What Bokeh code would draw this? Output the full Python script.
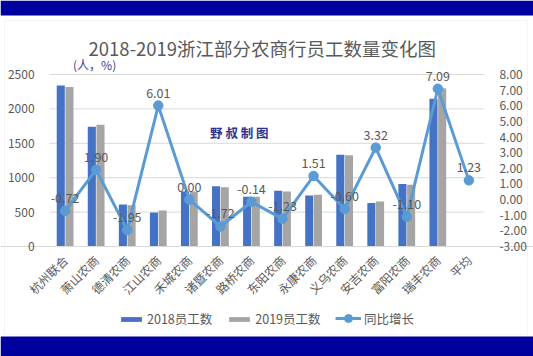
from math import pi
from bokeh.plotting import figure
from bokeh.core.properties import value
from bokeh.models import (FactorRange, Range1d, LinearAxis, SingleIntervalTicker,
                          NumeralTickFormatter, Legend, LegendItem, Label, LabelSet,
                          BoxAnnotation, ColumnDataSource)
from bokeh.transform import dodge
from bokeh.embed import file_html
from bokeh.resources import INLINE

categories = ["杭州联合", "萧山农商", "德清农商", "江山农商", "禾城农商", "诸暨农商", "路桥农商",
              "东阳农商", "永康农商", "义乌农商", "安吉农商", "富阳农商", "瑞丰农商", "平均"]
bar_categories = categories[:13]
staff_2018 = [2340, 1740, 610, 495, 800, 875, 725, 810, 740, 1335, 632, 908, 2148]
staff_2019 = [2320, 1770, 598, 525, 800, 860, 724, 800, 751, 1327, 653, 898, 2300]
growth = [-0.72, 1.90, -1.95, 6.01, 0.00, -1.72, -0.14, -1.23, 1.51, -0.60, 3.32, -1.10, 7.09, 1.23]
left_ticks = [0, 500, 1000, 1500, 2000, 2500]
right_ticks_interval = 1

FONT = "Noto Sans CJK SC"
TXT = "#595959"
NAVY = "#00009E"
GRID = "#D9D9D9"

bars = ColumnDataSource(dict(cat=bar_categories, y18=staff_2018, y19=staff_2019))
line_src = ColumnDataSource(dict(cat=categories, g=growth, lab=["%.2f" % v for v in growth]))
grid_src = ColumnDataSource(dict(y=left_ticks))

# frame covers the whole canvas; axes are placed at fixed data locations
xr = FactorRange(*categories, range_padding=1.58, range_padding_units="absolute")
p = figure(width=533, height=356, x_range=xr, y_range=Range1d(-1599, 3576),
           toolbar_location=None, output_backend="svg", min_border=0)
p.extra_y_ranges = {"pct": Range1d(-10.035, 12.733)}
p.outline_line_color = None
p.background_fill_color = "white"
p.border_fill_color = "white"
p.xgrid.grid_line_color = None
p.ygrid.grid_line_color = None

# bands and outer frame
p.add_layout(BoxAnnotation(bottom=3358, fill_color=NAVY, fill_alpha=1, line_color=None, level="underlay"))
p.add_layout(BoxAnnotation(top=-1308, fill_color=NAVY, fill_alpha=1, line_color=None, level="underlay"))
p.add_layout(BoxAnnotation(left=-1.45, right=15.39, top=3285, bottom=-1279, fill_alpha=0,
                           line_color=GRID, line_width=1, level="underlay"))

# horizontal grid lines over the category span
p.segment(x0=0, x1=len(categories), y0="y", y1="y", source=grid_src, line_color=GRID, line_width=1,
          level="underlay")

r18 = p.vbar(x=dodge("cat", -0.14, range=p.x_range), top="y18", width=0.26, source=bars,
             fill_color="#4472C4", line_color=None)
r19 = p.vbar(x=dodge("cat", 0.14, range=p.x_range), top="y19", width=0.26, source=bars,
             fill_color="#A5A5A5", line_color=None)
rl = p.line(x="cat", y="g", source=line_src, y_range_name="pct", line_color="#5B9BD5", line_width=3)
rs = p.scatter(x="cat", y="g", source=line_src, y_range_name="pct", size=9.5,
               fill_color="#5B9BD5", line_color="#5B9BD5")

labels = LabelSet(x="cat", y="g", text="lab", source=line_src, y_range_name="pct",
                  text_align="center", text_baseline="bottom", y_offset=8,
                  text_font=value(FONT), text_font_size=value("12.5px"), text_color=TXT)
p.add_layout(labels)

# axes
yl = p.yaxis[0]
yl.fixed_location = 0
yl.bounds = (0, 2500)
yl.ticker = SingleIntervalTicker(interval=500)
ax_right = LinearAxis(y_range_name="pct", ticker=SingleIntervalTicker(interval=right_ticks_interval),
                      formatter=NumeralTickFormatter(format="0.00"), fixed_location=len(categories),
                      bounds=(-3, 8))
p.add_layout(ax_right, "right")
for ax in [yl, ax_right]:
    ax.axis_line_color = None
    ax.major_tick_line_color = None
    ax.minor_tick_line_color = None
    ax.major_label_text_font = FONT
    ax.major_label_text_font_size = "12px"
    ax.major_label_text_color = TXT
    ax.major_label_standoff = 9
xa = p.xaxis[0]
xa.fixed_location = 0
xa.axis_line_color = GRID
xa.major_tick_line_color = None
xa.minor_tick_line_color = None
xa.major_label_orientation = pi / 4
xa.major_label_text_font = FONT
xa.major_label_text_font_size = "12px"
xa.major_label_text_color = TXT
xa.major_label_standoff = 5

# texts
p.add_layout(Label(x=6.85, y=2892, text="2018-2019浙江部分农商行员工数量变化图", text_align="center",
                   text_baseline="middle", text_font=FONT, text_font_size="18.5px", text_color=TXT))
p.add_layout(Label(x=1.45, y=2645, text="(人，%)", text_align="center", text_baseline="middle",
                   text_font=FONT, text_font_size="12px", text_color="#3B3B98"))
p.add_layout(Label(x=6.11, y=1657, text="野 叔 制 图", text_align="center", text_baseline="middle",
                   text_font=FONT, text_font_size="12.5px", text_font_style="bold", text_color="#2E3192"))

common = dict(orientation="horizontal", glyph_width=26, label_text_font=FONT,
              label_text_font_size="12.5px", label_text_color=TXT, label_standoff=3, spacing=14,
              padding=0, margin=0, border_line_color=None, background_fill_alpha=0)
legend_bars = Legend(items=[LegendItem(label="2018员工数", renderers=[r18]),
                            LegendItem(label="2019员工数", renderers=[r19])],
                     location=(118, 28), glyph_height=6, **common)
legend_line = Legend(items=[LegendItem(label="同比增长", renderers=[rl, rs])],
                     location=(335, 28), glyph_height=20, **common)
p.add_layout(legend_bars, "center")
p.add_layout(legend_line, "center")

open("out.html", "w").write(file_html(p, INLINE))
